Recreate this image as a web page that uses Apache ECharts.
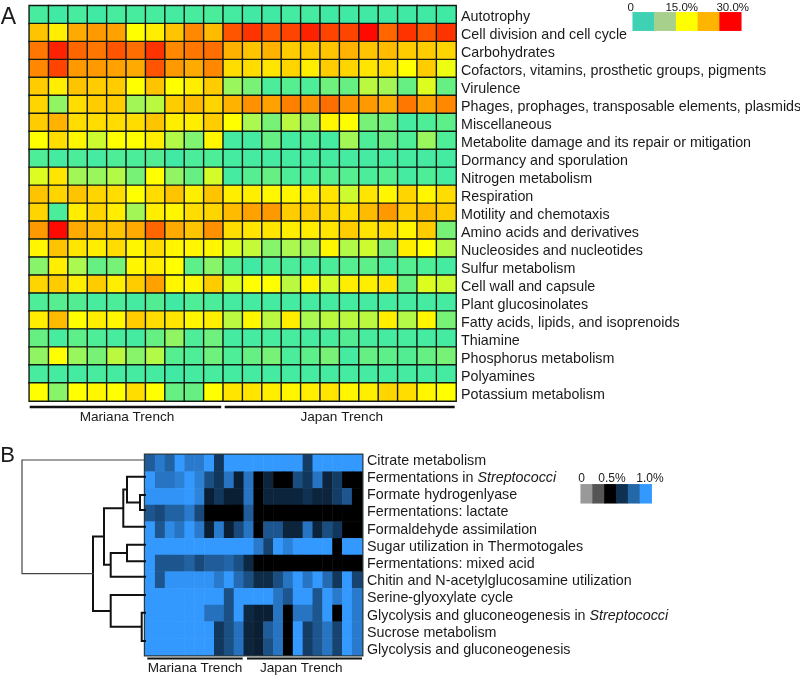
<!DOCTYPE html>
<html>
<head>
<meta charset="utf-8">
<script src="https://cdn.jsdelivr.net/npm/echarts@6/dist/echarts.min.js"></script>
<style>
  html, body { margin: 0; padding: 0; background: #fff; }
  #chart { width: 800px; height: 676px; }
</style>
</head>
<body>
<div id="chart"></div>
<script>
const rowsA = [
  "Autotrophy", "Cell division and cell cycle", "Carbohydrates",
  "Cofactors, vitamins, prosthetic groups, pigments", "Virulence",
  "Phages, prophages, transposable elements, plasmids", "Miscellaneous",
  "Metabolite damage and its repair or mitigation", "Dormancy and sporulation",
  "Nitrogen metabolism", "Respiration", "Motility and chemotaxis",
  "Amino acids and derivatives", "Nucleosides and nucleotides", "Sulfur metabolism",
  "Cell wall and capsule", "Plant glucosinolates", "Fatty acids, lipids, and isoprenoids",
  "Thiamine", "Phosphorus metabolism", "Polyamines", "Potassium metabolism",
];
const valuesA = [
  [3, 2, 3, 2, 3, 3, 3, 2.5, 3, 3.5, 2.5, 2, 2, 2.5, 2.5, 2, 2, 2, 2, 2, 2, 2],
  [18.5, 16, 20, 21, 20.5, 15, 16, 18.5, 22, 19, 25, 27, 25, 26, 28, 26, 26, 29.5, 24, 27, 25, 27],
  [23, 28, 24, 23, 25, 23.5, 27, 22, 23, 23.5, 19.5, 18.5, 19.5, 18, 18, 18.5, 19.5, 18.5, 19, 18, 18, 17.5],
  [22, 26, 21, 21, 20.5, 20, 25, 21, 20, 22, 17, 17, 16.5, 17.5, 16, 18, 17.5, 16.5, 17, 15, 18, 14],
  [18, 16, 18.5, 18, 18, 15, 18.5, 15, 16, 18, 9, 7, 3.5, 5, 4, 6.5, 6, 11, 9.5, 6, 13, 6],
  [17.5, 8.5, 17, 18, 18, 9.5, 11, 18, 19, 17.5, 19.5, 21.5, 20.5, 22.5, 21.5, 23.5, 21.5, 21, 20, 23, 20.5, 22],
  [18, 19.5, 17, 17, 17, 17, 18.5, 16, 16, 18, 15, 10, 7, 11, 8.5, 15.5, 15, 7, 6.5, 2.5, 4, 5.5],
  [15, 17, 15.5, 12, 15, 15, 16, 10.5, 7.5, 15.5, 2.5, 2.5, 6, 2.5, 4, 2.5, 9.5, 4, 6, 4, 9, 4],
  [4, 2.5, 3.5, 2.5, 4, 3.5, 4.5, 2, 3.5, 4, 2.5, 2.5, 2.5, 2.5, 2.5, 2.5, 2.5, 2.5, 2.5, 2.5, 2.5, 2.5],
  [13, 16.5, 9.5, 9, 10.5, 7, 15, 8.5, 6, 12.5, 2.5, 5, 6, 4, 3.5, 5, 5, 3.5, 5, 2.5, 4, 2.5],
  [18.5, 17.5, 18.5, 17.5, 17, 15, 17, 18.5, 16, 18.5, 16, 16, 15.5, 15.5, 16, 16.5, 12, 16.5, 15.5, 17.5, 15.5, 17],
  [17.5, 3.5, 16, 17.5, 16, 9.5, 16, 15.5, 17, 17.5, 19, 20.5, 21, 18, 18, 17.5, 17, 19, 21, 18, 19, 18],
  [21, 29.5, 20, 19, 18.5, 20, 24, 20, 18.5, 21.5, 17, 16.5, 16.5, 16, 16, 16.5, 18, 16.5, 17, 15.5, 18, 7],
  [15.5, 18.5, 16.5, 16, 17, 15.5, 17, 15.5, 15.5, 15.5, 13, 11.5, 8, 10, 9.5, 15.5, 10.5, 12, 7, 16, 15, 10.5],
  [8, 16, 10, 6, 7, 15.5, 16, 15, 5.5, 8, 4.5, 2, 4, 3.5, 2.5, 3.5, 5, 5.5, 3, 5, 4, 2.5],
  [17.5, 18, 16, 18, 16, 18, 20.5, 15.5, 15.5, 18, 13, 15, 15, 11, 15.5, 12.5, 16, 16, 16.5, 6, 13, 12],
  [4, 5, 4.5, 3, 3.5, 2.5, 4.5, 2, 4, 3.5, 2.5, 2.5, 2.5, 2.5, 2.5, 2.5, 2.5, 2.5, 2.5, 2.5, 2.5, 2.5],
  [16, 19, 15, 16, 15.5, 18, 17, 16.5, 15.5, 16, 11, 15.5, 11, 16, 10, 11, 11, 11, 16, 10.5, 15.5, 7],
  [6, 3, 5.5, 4, 3, 2.5, 6, 8.5, 4, 6.5, 2.5, 2.5, 3, 3, 2.5, 3, 4.5, 3, 2.5, 3, 2.5, 2.5],
  [8.5, 15, 9, 7, 11, 8, 10.5, 5, 4, 6.5, 4, 6, 7, 3.5, 5.5, 7, 2.5, 6, 5.5, 4.5, 6, 7],
  [3, 2.5, 2.5, 3, 2.5, 2.5, 2.5, 2, 2.5, 3, 2.5, 2.5, 2.5, 2.5, 2.5, 2.5, 2.5, 2.5, 2.5, 2.5, 2.5, 2.5],
  [15, 8, 15, 15.5, 15, 17, 15, 6, 6, 15, 16.5, 16.5, 16, 15.5, 16, 16.5, 15.5, 16, 17.5, 17, 15.5, 15],
];

const rowsB = [
  "Citrate metabolism", "Fermentations in {i|Streptococci}", "Formate hydrogenlyase",
  "Fermentations: lactate", "Formaldehyde assimilation", "Sugar utilization in Thermotogales",
  "Fermentations: mixed acid", "Chitin and N-acetylglucosamine utilization",
  "Serine-glyoxylate cycle", "Glycolysis and gluconeogenesis in {i|Streptococci}",
  "Sucrose metabolism", "Glycolysis and gluconeogenesis",
];
const valuesB = [
  [0.8, 0.9, 0.82, 1, 0.9, 0.9, 1, 0.68, 1, 1, 1, 1, 1, 1, 1, 1, 0.7, 1, 1, 1, 1, 1],
  [1, 0.88, 0.88, 0.92, 1, 0.92, 0.76, 0.68, 0.88, 0.6, 0.88, 0.5, 0.62, 0.5, 0.5, 0.75, 0.68, 0.88, 0.62, 0.7, 0.5, 0.5],
  [0.98, 0.98, 0.98, 0.98, 1, 0.93, 0.6, 0.68, 0.6, 0.6, 0.88, 0.5, 0.62, 0.62, 0.62, 0.62, 0.66, 0.62, 0.62, 0.7, 0.78, 0.5],
  [0.78, 0.74, 0.82, 0.82, 0.9, 0.74, 0.5, 0.5, 0.5, 0.5, 0.8, 0.5, 0.5, 0.5, 0.5, 0.5, 0.5, 0.5, 0.5, 0.5, 0.5, 0.5],
  [1, 0.78, 0.95, 0.88, 1, 0.9, 0.6, 0.9, 0.6, 0.74, 0.88, 0.5, 0.78, 0.78, 0.62, 0.62, 0.88, 0.62, 0.75, 0.68, 0.5, 0.5],
  [1, 1, 1, 1, 1, 1, 1, 1, 1, 1, 1, 0.9, 0.72, 1, 0.92, 1, 1, 1, 1, 0.5, 1, 1],
  [1, 0.78, 0.78, 0.78, 0.82, 0.74, 0.8, 0.8, 0.83, 0.76, 0.63, 0.5, 0.5, 0.5, 0.5, 0.5, 0.5, 0.5, 0.5, 0.5, 0.5, 0.5],
  [1, 0.78, 0.98, 0.98, 0.98, 0.98, 0.98, 0.9, 1, 0.85, 0.76, 0.64, 0.64, 0.75, 0.88, 1, 0.88, 1, 0.85, 0.68, 1, 0.72],
  [1, 1, 1, 1, 1, 1, 1, 1, 0.76, 1, 1, 1, 1, 0.88, 0.78, 1, 1, 0.78, 1, 0.9, 1, 0.9],
  [1, 1, 1, 1, 1, 1, 0.87, 0.87, 0.76, 1, 0.63, 0.6, 0.6, 0.88, 0.5, 0.88, 0.88, 0.78, 1, 0.5, 1, 0.9],
  [1, 1, 1, 1, 1, 1, 1, 0.68, 0.76, 0.87, 0.62, 0.6, 0.8, 0.88, 0.5, 1, 0.7, 0.78, 0.88, 0.72, 1, 0.9],
  [1, 1, 1, 1, 1, 1, 1, 0.68, 0.76, 0.87, 0.62, 0.6, 0.76, 0.88, 0.5, 1, 0.7, 0.78, 0.88, 0.72, 1, 0.9],
];

// dendrogram: leaf heights in rows, then merges [childA, childB, distance]
const dendroLeaves = [0.3, 1.3, 2.4, 3.3, 4.3, 5.38, 6.37, 7.3, 8.4, 9.46, 11.16];
const dendroMerges = [
  [2, 3, 5], [1, 11, 18], [12, 4, 21.7], [5, 6, 18], [14, 7, 34.3], [13, 15, 41],
  [9, 10, 3.3], [8, 17, 34.3], [16, 18, 52],
];
const dendroRoot = [0, 19, 123];

const legendColorsA = ["#3fd1b4", "#a8d08d", "#ffff00", "#ffb400", "#ff0000"];
const legendColorsB = ["#999999", "#555555", "#000000", "#10304f", "#2468a8", "#3399ff"];

const FONT = "Liberation Sans, Arial, sans-serif";
const LABEL_SIZE = 14.3;

function toCells(matrix) {
  const cells = [];
  matrix.forEach((row, r) => row.forEach((v, c) => cells.push([c, r, v])));
  return cells;
}

function dendroLines() {
  const nodes = dendroLeaves.map((y) => ({ y: y, d: 0 }));
  const path = (merge) => {
    const a = nodes[merge[0]], b = nodes[merge[1]], d = merge[2];
    nodes.push({ y: (a.y + b.y) / 2, d: d });
    return [[a.d, a.y], [d, a.y], [d, b.y], [b.d, b.y], ["-", "-"]];
  };
  const main = [];
  dendroMerges.forEach((m) => main.push(...path(m)));
  return { main: main, root: path(dendroRoot) };
}
const dendro = dendroLines();

function hiddenAxis(n, names, inverse) {
  return { type: "category", gridIndex: n, data: names, show: false, inverse: !!inverse };
}
function rowAxis(n, names) {
  return {
    type: "category", gridIndex: n, data: names, inverse: true, position: "right",
    axisLine: { show: false }, axisTick: { show: false }, splitLine: { show: false },
    axisLabel: {
      show: true, interval: 0, margin: 5, fontFamily: FONT, fontSize: LABEL_SIZE, color: "#1a1a1a",
      rich: { i: { fontStyle: "italic", fontFamily: FONT, fontSize: LABEL_SIZE, color: "#1a1a1a" } },
    },
  };
}
function text(t, x, y, size, align) {
  return {
    type: "text", x: x, y: y, silent: true,
    style: { text: t, font: size + "px " + FONT, fill: "#1a1a1a", textAlign: align || "center", textVerticalAlign: "middle" },
  };
}
function bar(x, y, w, h) {
  return { type: "rect", silent: true, shape: { x: x, y: y, width: w, height: h }, style: { fill: "#111" } };
}

const cols = valuesA[0].map((_, i) => i);
const box = (left, top, width, height) => ({ left, top, width, height, outerBoundsMode: "none" });

const options = {
  animation: false,
  backgroundColor: "#fff",
  textStyle: { fontFamily: FONT },
  grid: [
    box(29.3, 5.7, 426.7, 395.3),
    Object.assign(box(145.3, 455, 216.7, 200), { show: true, backgroundColor: "transparent", borderColor: "#2b3a3f", borderWidth: 3 }),
    box(632.7, 12.3, 108.6, 18.4),
    box(580.7, 484.3, 71, 19),
    box(22, 455, 123, 200),
    // labels of panel A and B sit on their own, slightly different row spacing
    box(29.3, 8.5, 426.7, 395.3),
    box(145.3, 452.4, 216.7, 206.2),
  ],
  xAxis: [
    hiddenAxis(0, cols),
    hiddenAxis(1, cols),
    hiddenAxis(2, legendColorsA.map((_, i) => i)),
    hiddenAxis(3, legendColorsB.map((_, i) => i)),
    { type: "value", gridIndex: 4, min: 0, max: 123, inverse: true, show: false },
    hiddenAxis(5, cols),
    hiddenAxis(6, cols),
  ],
  yAxis: [
    hiddenAxis(0, rowsA, true),
    hiddenAxis(1, rowsB, true),
    hiddenAxis(2, [0]),
    hiddenAxis(3, [0]),
    { type: "value", gridIndex: 4, min: 0, max: 12, inverse: true, show: false },
    rowAxis(5, rowsA),
    rowAxis(6, rowsB),
  ],
  visualMap: [
    {
      show: false, type: "continuous", seriesIndex: 0, dimension: 2, min: 0, max: 30,
      inRange: { color: ["#34e8b2", "#55ee90", "#aaf850", "#ffff00", "#ffaa00", "#ff5500", "#ff0000"] },
    },
    { show: false, type: "continuous", seriesIndex: 1, dimension: 2, min: 0, max: 1, inRange: { color: ["#aaaaaa", "#000000", "#3399ff"] } },
  ],
  series: [
    {
      type: "heatmap", xAxisIndex: 0, yAxisIndex: 0, data: toCells(valuesA), silent: true,
      itemStyle: { borderColor: "#121a14", borderWidth: 1.4 },
    },
    {
      type: "heatmap", xAxisIndex: 1, yAxisIndex: 1, data: toCells(valuesB), silent: true,
      itemStyle: { borderWidth: 0 },
    },
    {
      type: "heatmap", xAxisIndex: 2, yAxisIndex: 2, silent: true,
      data: legendColorsA.map((c, i) => ({ value: [i, 0, i], itemStyle: { color: c } })),
    },
    {
      type: "heatmap", xAxisIndex: 3, yAxisIndex: 3, silent: true,
      data: legendColorsB.map((c, i) => ({ value: [i, 0, i], itemStyle: { color: c } })),
    },
    {
      type: "line", xAxisIndex: 4, yAxisIndex: 4, data: dendro.main, symbol: "none", silent: true, clip: false,
      lineStyle: { color: "#111", width: 2, cap: "square", join: "miter" },
    },
    {
      type: "line", xAxisIndex: 4, yAxisIndex: 4, data: dendro.root, symbol: "none", silent: true, clip: false,
      lineStyle: { color: "#444", width: 1.2, cap: "square", join: "miter" },
    },
  ],
  graphic: [
    text("A", 8.5, 18, 23),
    text("B", 7.5, 456, 22),
    text("0", 630.7, 7.5, 11.5),
    text("15.0%", 681.7, 7.5, 11.5),
    text("30.0%", 732.7, 7.5, 11.5),
    text("0", 581.7, 478.5, 12),
    text("0.5%", 612, 478.5, 12),
    text("1.0%", 650, 478.5, 12),
    bar(29.7, 405.7, 191.5, 2.5),
    bar(224.7, 405.7, 230, 2.5),
    text("Mariana Trench", 127, 417, 13.6),
    text("Japan Trench", 341.7, 417, 13.6),
    bar(147.3, 657.5, 95.4, 2),
    bar(247, 657.5, 115, 2),
    text("Mariana Trench", 195, 668, 13.6),
    text("Japan Trench", 301.3, 668, 13.6),
  ],
};

const myChart = echarts.init(document.getElementById("chart"), null, { renderer: "canvas" });
myChart.setOption(options);
</script>
</body>
</html>
